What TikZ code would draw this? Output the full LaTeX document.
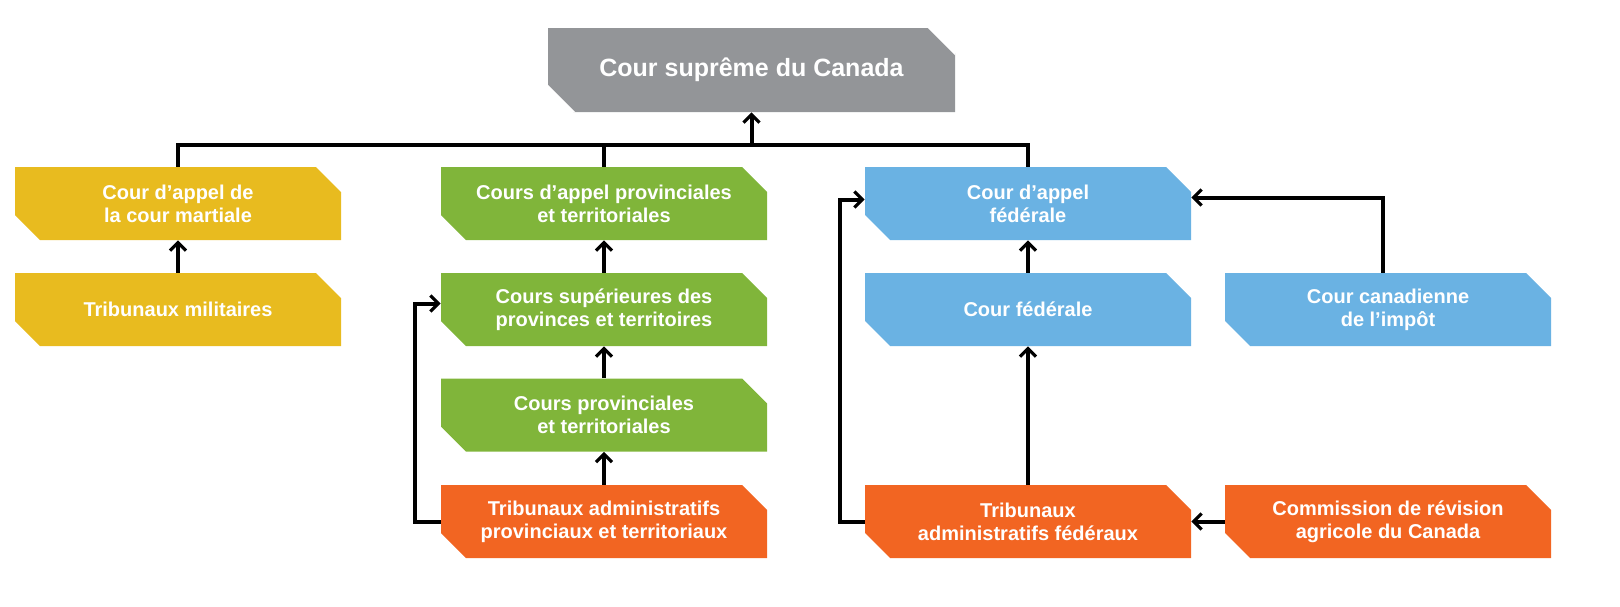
\documentclass[tikz,border=0pt]{standalone}
\usepackage{fontspec}
\setmainfont{Liberation Sans}
\usetikzlibrary{arrows.meta,positioning}
\definecolor{supgray}{HTML}{939598}
\definecolor{milyellow}{HTML}{E8BB1F}
\definecolor{provgreen}{HTML}{80B53A}
\definecolor{fedblue}{HTML}{6AB2E3}
\definecolor{triborange}{HTML}{F26522}
\tikzset{
  court/.style={minimum width=163pt, minimum height=36.5pt, inner sep=0pt,
    text=white, font=\bfseries\fontsize{10}{11.5}\selectfont, align=center,
    path picture={\fill[#1]
      (path picture bounding box.north west) --
      ([xshift=-12.5pt]path picture bounding box.north east) --
      ([yshift=-12.5pt]path picture bounding box.north east) --
      (path picture bounding box.south east) --
      ([xshift=12.5pt]path picture bounding box.south west) --
      ([yshift=12.5pt]path picture bounding box.south west) -- cycle;}},
  link/.style={line width=2pt, black},
  arr/.style={link, -{Straight Barb[length=4pt,width=8pt,line width=1.6pt]}}
}
\begin{document}
\begin{tikzpicture}[x=0.5pt,y=-0.5pt]
\useasboundingbox (0,0) rectangle (1620,606);

% Supreme court
\node[court=supgray, minimum width=203.5pt, minimum height=42pt,
  font=\bfseries\fontsize{12.5}{14}\selectfont] (sup) at (751.5,70) {Cour suprême du Canada};
\fill[white] ([xshift=-14pt]sup.north east) -- (sup.north east) -- ([yshift=-14pt]sup.north east) -- cycle;
\fill[white] ([xshift=14pt]sup.south west) -- (sup.south west) -- ([yshift=14pt]sup.south west) -- cycle;

% Military
\node[court=milyellow] (cam) at (178,203.5) {Cour d’appel de\\la cour martiale};
\node[court=milyellow] (tmi) at (178,309.5) {Tribunaux militaires};

% Provincial
\node[court=provgreen] (cap) at (604,203.5) {Cours d’appel provinciales\\et territoriales};
\node[court=provgreen] (csp) at (604,309.5) {Cours supérieures des\\provinces et territoires};
\node[court=provgreen] (cpr) at (604,415) {Cours provinciales\\et territoriales};
\node[court=triborange] (tap) at (604,521.5) {Tribunaux administratifs\\provinciaux et territoriaux};

% Federal
\node[court=fedblue] (caf) at (1028,203.5) {Cour d’appel\\fédérale};
\node[court=fedblue] (cfe) at (1028,309.5) {Cour fédérale};
\node[court=triborange] (taf) at (1028,521.5) {Tribunaux\\administratifs fédéraux};
\node[court=fedblue] (cci) at (1388,309.5) {Cour canadienne\\de l’impôt};
\node[court=triborange] (cra) at (1388,521.5) {Commission de révision\\agricole du Canada};

% Bus to supreme court
\coordinate (bus) at (751.5,145);
\draw[link] (cam.north) -- (cam.north |- bus) -- (caf.north |- bus) -- (caf.north);
\draw[link] (cap.north) -- (cap.north |- bus);
\draw[arr] (bus) -- (sup.south);

% Appeals
\draw[arr] (tmi) -- (cam);
\draw[arr] (csp) -- (cap);
\draw[arr] (cpr) -- (csp);
\draw[arr] (tap) -- (cpr);
\draw[arr] (cfe) -- (caf);
\draw[arr] (taf) -- (cfe);
\draw[arr] (tap.west) -- ++(-26,0) |- ([yshift=3pt]csp.west);
\draw[arr] (taf.west) -- ++(-25,0) |- ([yshift=2pt]caf.west);
\draw[arr] (cci.north -| 1383,0) |- ([yshift=3pt]caf.east);
\draw[arr] (cra) -- (taf);
\end{tikzpicture}
\end{document}
